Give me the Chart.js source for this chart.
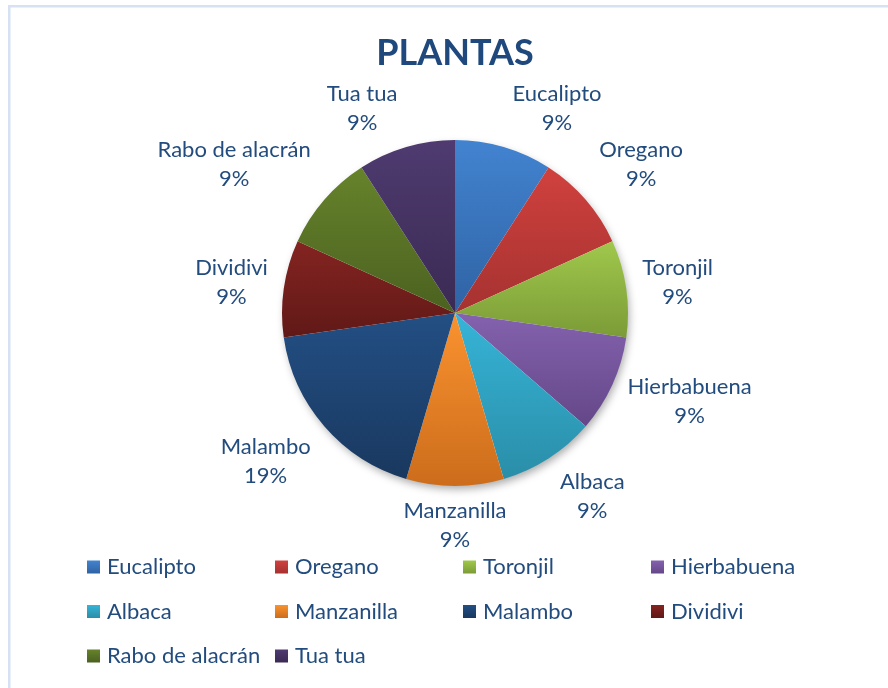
<!DOCTYPE html>
<html lang="es">
<head>
    <meta charset="UTF-8">
    <title>Plantas</title>
    <script src="https://cdn.jsdelivr.net/npm/chart.js@4.4.0/dist/chart.umd.min.js"></script>
    <style>
        body { margin: 0; background: #fff; }
    </style>
</head>
<body>
<canvas id="chart" width="888" height="688"></canvas>
<script>
// datos
const plantas = ['Eucalipto', 'Oregano', 'Toronjil', 'Hierbabuena', 'Albaca',
                 'Manzanilla', 'Malambo', 'Dividivi', 'Rabo de alacrán', 'Tua tua'];
const cantidades = [1, 1, 1, 1, 1, 1, 2, 1, 1, 1];
const porcentajes = ['9%', '9%', '9%', '9%', '9%', '9%', '19%', '9%', '9%', '9%'];

// colores claro (arriba) y oscuro (abajo) de cada tajada
const colorClaro = ['#4283d0', '#d0413e', '#a0c84c', '#8462ae', '#36b4d7',
                    '#fa922f', '#234f84', '#842421', '#66832b', '#4f3b70'];
const colorOscuro = ['#2f63a4', '#a53230', '#7b9b37', '#644788', '#2a8ea8',
                     '#cc6d1c', '#19385f', '#601917', '#4b6120', '#3a2a53'];

const azulTexto = '#234c7e';
const fuente = 'Lato, "Open Sans", sans-serif';

// gradiente vertical sobre el alto de cada tajada
function gradTajada(ctx) {
    const i = ctx.dataIndex;
    const chart = ctx.chart;
    const area = chart.chartArea;
    if (!area) return colorClaro[i];
    const cx = (area.left + area.right) / 2;
    const cy = (area.top + area.bottom) / 2;
    const r = Math.min(area.right - area.left, area.bottom - area.top) / 2;
    const total = cantidades.reduce((a, b) => a + b, 0);
    let acum = 0;
    for (let k = 0; k < i; k++) acum += cantidades[k];
    const a0 = -Math.PI / 2 + 2 * Math.PI * acum / total;
    const a1 = a0 + 2 * Math.PI * cantidades[i] / total;
    let ys = [cy, cy + r * Math.sin(a0), cy + r * Math.sin(a1)];
    const dentro = (a) => {
        let t = a;
        while (t < a0) t += 2 * Math.PI;
        return t <= a1;
    };
    if (dentro(-Math.PI / 2)) ys.push(cy - r);
    if (dentro(Math.PI / 2)) ys.push(cy + r);
    const y0 = Math.min(...ys), y1 = Math.max(...ys);
    const g = chart.ctx.createLinearGradient(0, y0, 0, y1);
    g.addColorStop(0, colorClaro[i]);
    g.addColorStop(1, colorOscuro[i]);
    return g;
}

// marco azul claro y sombra del pastel
const marco = {
    id: 'marco',
    beforeDraw(chart) {
        const c = chart.ctx;
        c.save();
        c.strokeStyle = '#d6e2f3';
        c.lineWidth = 2.5;
        c.strokeRect(9.25, 6.25, 900, 700);
        c.restore();
    },
    beforeDatasetsDraw(chart) {
        const arc = chart.getDatasetMeta(0).data[0];
        if (!arc) return;
        const c = chart.ctx;
        c.save();
        c.shadowColor = 'rgba(0,0,0,0.35)';
        c.shadowBlur = 9;
        c.shadowOffsetX = 2;
        c.shadowOffsetY = 4;
        c.fillStyle = '#fff';
        c.beginPath();
        c.arc(arc.x, arc.y, arc.outerRadius - 1, 0, Math.PI * 2);
        c.fill();
        c.restore();
    }
};

// etiquetas de datos afuera de cada tajada
const etiquetas = {
    id: 'etiquetas',
    afterDatasetsDraw(chart) {
        const c = chart.ctx;
        const meta = chart.getDatasetMeta(0);
        c.save();
        c.font = '22px ' + fuente;
        c.fillStyle = azulTexto;
        c.textBaseline = 'middle';
        c.textAlign = 'center';
        meta.data.forEach((arc, i) => {
            const p = arc.getProps(['x', 'y', 'startAngle', 'endAngle', 'outerRadius']);
            const a = (p.startAngle + p.endAngle) / 2;
            const dx = Math.cos(a), dy = Math.sin(a);
            const px = p.x + (p.outerRadius + 10) * dx;
            const py = p.y + (p.outerRadius + 10) * dy;
            const lineas = [plantas[i], porcentajes[i]];
            const w = Math.max(...lineas.map(t => c.measureText(t).width));
            const h = 58;
            let mx;
            if (dx > 0.15) mx = px + 6 + w / 2;
            else if (dx < -0.15) mx = px - 6 - w / 2;
            else mx = px;
            // arriba/abajo: el borde de la caja toca el rayo
            const fy = Math.abs(dy) > 0.5 ? Math.sign(dy) : dy;
            const my = py + fy * h / 2;
            c.fillText(lineas[0], mx, my - 14.5);
            c.fillText(lineas[1], mx, my + 14.5);
        });
        c.restore();
    }
};

// leyenda en 4 columnas
const leyenda = {
    id: 'leyenda',
    afterDraw(chart) {
        const c = chart.ctx;
        const x0 = 87, colW = 188, y0 = 567, filaH = 44.5, caja = 13;
        c.save();
        c.font = '22px ' + fuente;
        c.textBaseline = 'middle';
        c.textAlign = 'left';
        plantas.forEach((nombre, i) => {
            const col = i % 4, fila = Math.floor(i / 4);
            const x = x0 + col * colW;
            const y = y0 + fila * filaH;
            const g = c.createLinearGradient(0, y - caja / 2, 0, y + caja / 2);
            g.addColorStop(0, colorClaro[i]);
            g.addColorStop(1, colorOscuro[i]);
            c.fillStyle = g;
            c.fillRect(x, y - caja / 2, caja, caja);
            c.fillStyle = azulTexto;
            c.fillText(nombre, x + 20, y);
        });
        c.restore();
    }
};

const ctx = document.getElementById('chart').getContext('2d');
const grafico = new Chart(ctx, {
    type: 'pie',
    data: {
        labels: plantas,
        datasets: [{
            data: cantidades,
            backgroundColor: gradTajada,
            borderWidth: 0
        }]
    },
    options: {
        responsive: false,
        animation: false,
        layout: {
            padding: { left: 282, right: 260, top: 0, bottom: 202 }
        },
        plugins: {
            legend: { display: false },
            tooltip: { enabled: false },
            title: {
                display: true,
                text: 'PLANTAS',
                fullSize: false,
                color: '#1f497d',
                font: { family: fuente, size: 36, weight: 'bold', lineHeight: 1.2 },
                padding: { top: 32, bottom: 64.8 }
            }
        }
    },
    plugins: [marco, etiquetas, leyenda]
});
</script>
</body>
</html>
